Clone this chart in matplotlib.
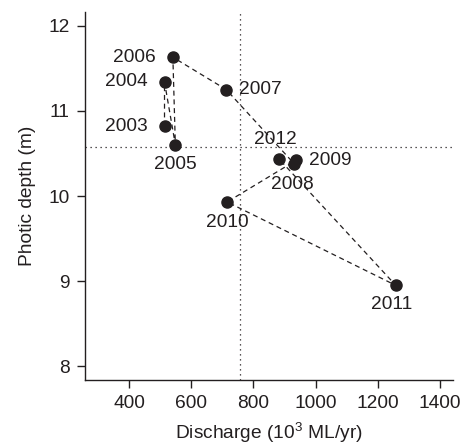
import matplotlib
matplotlib.use("Agg")
import matplotlib.pyplot as plt

plt.rcParams['font.family'] = ['Liberation Sans', 'DejaVu Sans']
plt.rcParams['mathtext.fontset'] = 'custom'
plt.rcParams['mathtext.rm'] = 'Liberation Sans'

years = ["2003", "2004", "2005", "2006", "2007", "2008", "2009", "2010", "2011", "2012"]
discharge = [513, 513, 548, 540, 712, 931, 938, 715, 1259, 881]
photic = [10.82, 11.34, 10.60, 11.63, 11.25, 10.38, 10.42, 9.93, 8.95, 10.44]
mean_discharge = 755
mean_photic = 10.58

xticks = [400, 600, 800, 1000, 1200, 1400]
yticks = [8, 9, 10, 11, 12]

# label offsets in points (dx, dy, ha, va)
offsets = {
    "2003": (-12, 0, 'right', 'center'),
    "2004": (-12, 0, 'right', 'center'),
    "2005": (0, -14, 'center', 'center'),
    "2006": (-12, 0, 'right', 'center'),
    "2007": (9, 0, 'left', 'center'),
    "2008": (-1, -15, 'center', 'center'),
    "2009": (9, 0, 'left', 'center'),
    "2010": (0, -15, 'center', 'center'),
    "2011": (-3, -14, 'center', 'center'),
    "2012": (-2, 14, 'center', 'center'),
}

ink = '#231f20'
fs = 13.8
fig = plt.figure(figsize=(4.61, 4.48), dpi=100)
ax = fig.add_axes([0.184, 0.152, 0.799, 0.821])

ax.axhline(mean_photic, color=ink, lw=0.9, ls=(0, (1, 3)), zorder=1)
ax.axvline(mean_discharge, color=ink, lw=0.9, ls=(0, (1, 3)), zorder=1)
ax.plot(discharge, photic, color=ink, lw=0.9, ls=(0, (4, 3)), zorder=2)
ax.plot(discharge, photic, 'o', color=ink, ms=8, zorder=3)

for yr, x, y in zip(years, discharge, photic):
    dx, dy, ha, va = offsets[yr]
    ax.annotate(yr, (x, y), xytext=(dx, dy), textcoords='offset points',
                ha=ha, va=va, fontsize=fs, color=ink)

ax.set_xlim(256, 1444)
ax.set_ylim(7.84, 12.16)
ax.set_xticks(xticks)
ax.set_yticks(yticks)
for s in ['top', 'right']:
    ax.spines[s].set_visible(False)
for s in ['left', 'bottom']:
    ax.spines[s].set_color(ink)
    ax.spines[s].set_linewidth(1.0)
ax.tick_params(axis='both', direction='out', length=6, width=1.0, color=ink,
               labelsize=fs, labelcolor=ink, pad=5)
ax.set_xlabel("Discharge (10$^{3}$ ML/yr)", fontsize=fs, color=ink, labelpad=6)
ax.set_ylabel("Photic depth (m)", fontsize=fs, color=ink, labelpad=9)

fig.savefig("out.png", dpi=100)
